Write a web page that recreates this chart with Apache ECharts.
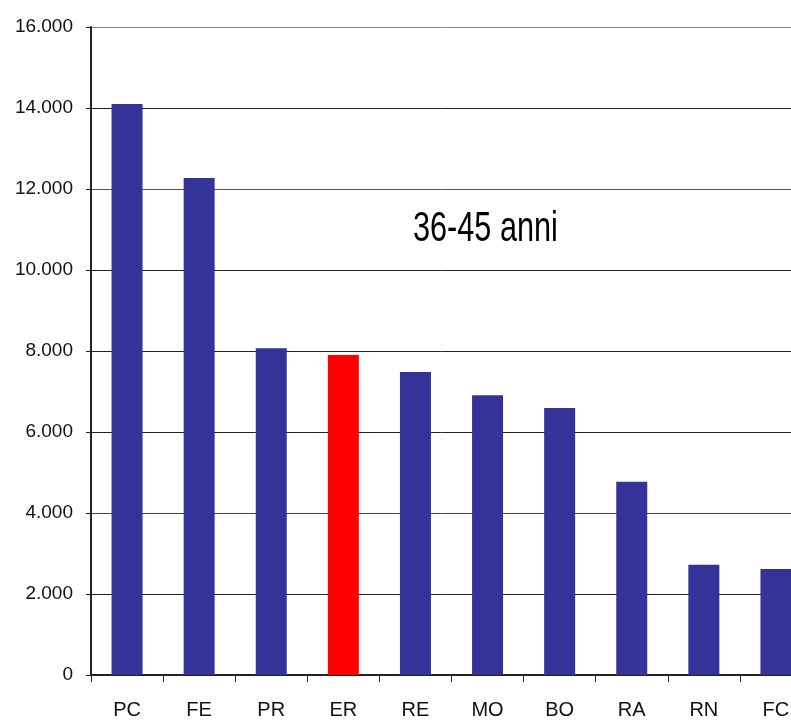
<!DOCTYPE html>
<html>
<head>
<meta charset="utf-8">
<script src="https://cdn.jsdelivr.net/npm/echarts@6/dist/echarts.min.js"></script>
<style>
html,body{margin:0;padding:0;background:#fff;}
#chart{width:791px;height:723px;}
</style>
</head>
<body>
<div id="chart"></div>
<script>
const categories = ["PC","FE","PR","ER","RE","MO","BO","RA","RN","FC"];
const values = [14100, 12270, 8070, 7900, 7480, 6910, 6590, 4770, 2720, 2620];
const highlight = "ER";
const yTicks = [0, 2000, 4000, 6000, 8000, 10000, 12000, 14000, 16000];
const titleText = "36-45 anni";

const FONT = "'Liberation Sans', Arial, sans-serif";
const chart = echarts.init(document.getElementById('chart'), null, {renderer: 'canvas'});

function fmt(v){
  return String(v).replace(/\B(?=(\d{3})+(?!\d))/g, '.');
}

chart.setOption({
  animation: false,
  backgroundColor: '#ffffff',
  grid: {left: 91, top: 27, height: 648, width: 721, containLabel: false, outerBoundsMode: 'none'},
  xAxis: {
    type: 'category',
    data: categories,
    boundaryGap: true,
    axisLine: {show: true, lineStyle: {color: '#222', width: 2}},
    axisTick: {show: true, alignWithLabel: false, length: 7, lineStyle: {color: '#222', width: 1}},
    axisLabel: {color: '#111', fontFamily: FONT, fontSize: 20, margin: 25},
    splitLine: {show: false}
  },
  yAxis: {
    type: 'value',
    min: yTicks[0],
    max: yTicks[yTicks.length - 1],
    interval: yTicks[1] - yTicks[0],
    axisLine: {show: true, lineStyle: {color: '#222', width: 2}},
    axisTick: {show: true, length: 5, lineStyle: {color: '#222', width: 1}},
    axisLabel: {color: '#111', fontFamily: FONT, fontSize: 19, margin: 18, formatter: fmt},
    splitLine: {show: true, lineStyle: {color: ['#222','#222','#444','#222','#222','#222','#555','#222','#888'], width: 1}}
  },
  series: [{
    type: 'bar',
    data: values.map((v, i) => ({
      value: v,
      itemStyle: {color: categories[i] === highlight ? '#FF0000' : '#333399'}
    })),
    barWidth: 31,
    itemStyle: {color: '#333399'}
  }],
  graphic: [{
    type: 'text',
    x: 413,
    y: 229,
    scaleX: 0.73,
    style: {
      text: titleText,
      fontFamily: FONT,
      fontSize: 42,
      fill: '#000',
      align: 'left',
      verticalAlign: 'middle'
    }
  }]
});
</script>
</body>
</html>
